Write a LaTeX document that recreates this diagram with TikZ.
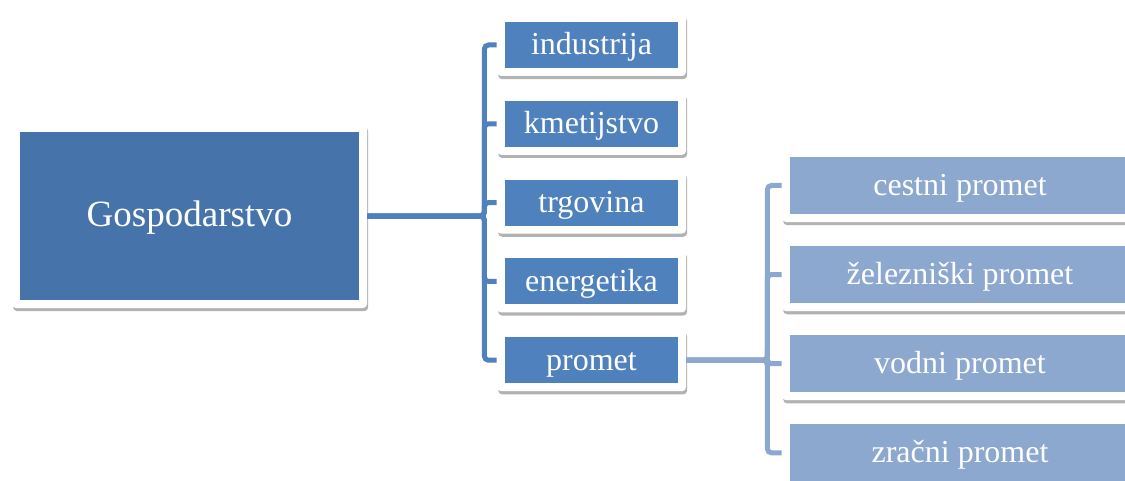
\documentclass[tikz,border=0pt]{standalone}
\usepackage{fontspec}
\setmainfont{Liberation Serif}
\usetikzlibrary{positioning, shadows}

\definecolor{rootblue}{RGB}{70,116,170}
\definecolor{midblue}{RGB}{79,129,189}
\definecolor{lightblue}{RGB}{141,168,206}

\begin{document}
\begin{tikzpicture}[
    card/.style = {fill=white, rounded corners=2pt, inner sep=0pt, text=white,
        text height=10pt, text depth=0pt,
        drop shadow={shadow xshift=.6pt, shadow yshift=-1.6pt, opacity=.3, fill=black},
        path picture={\fill[#1, sharp corners]
            ([shift={(4pt,4pt)}]path picture bounding box.south west) rectangle
            ([shift={(-4pt,-4pt)}]path picture bounding box.north east);}},
    sector/.style = {card=midblue, minimum width=94.5pt, minimum height=31pt,
        font=\fontsize{16}{18}\selectfont},
    transport/.style = {card=lightblue, minimum width=178pt, minimum height=36.5pt,
        font=\fontsize{16}{18}\selectfont},
    branch/.style = {line width=2.5pt, rounded corners=2pt}
]
    \useasboundingbox (0,0) rectangle (562.5pt,-240.5pt);
    \clip (0,0) rectangle (562.5pt,-240.5pt);

    \node (gosp) [card=rootblue, minimum width=177.5pt, minimum height=92pt,
        text height=11pt, font=\fontsize{18.5}{22}\selectfont]
        at (94.75pt,-108pt) {Gospodarstvo};

    \node (ind) [sector] at (295.75pt,-22.5pt) {industrija};
    \node (kme) [sector, below=8pt of ind] {kmetijstvo};
    \node (trg) [sector, below=8pt of kme] {trgovina};
    \node (ene) [sector, below=8pt of trg] {energetika};
    \node (pro) [sector, below=8pt of ene] {promet};

    \node (ces) [transport] at (480pt,-92.75pt) {cestni promet};
    \node (zel) [transport, below=7.65pt of ces] {železniški promet};
    \node (vod) [transport, below=7.65pt of zel] {vodni promet};
    \node (zra) [transport, below=7.65pt of vod] {zračni promet};

    \coordinate [right=58.5pt of gosp] (hub);
    \coordinate [right=40.5pt of pro] (hubpro);

    % sectors
    \foreach \n in {ind, kme, trg, ene, pro}
        \draw [branch, draw=midblue] (gosp) -- (hub) |- (\n);

    % kinds of transport
    \foreach \n in {ces, zel, vod, zra}
        \draw [branch, draw=lightblue] (pro) -- (hubpro) |- (\n);
\end{tikzpicture}
\end{document}
